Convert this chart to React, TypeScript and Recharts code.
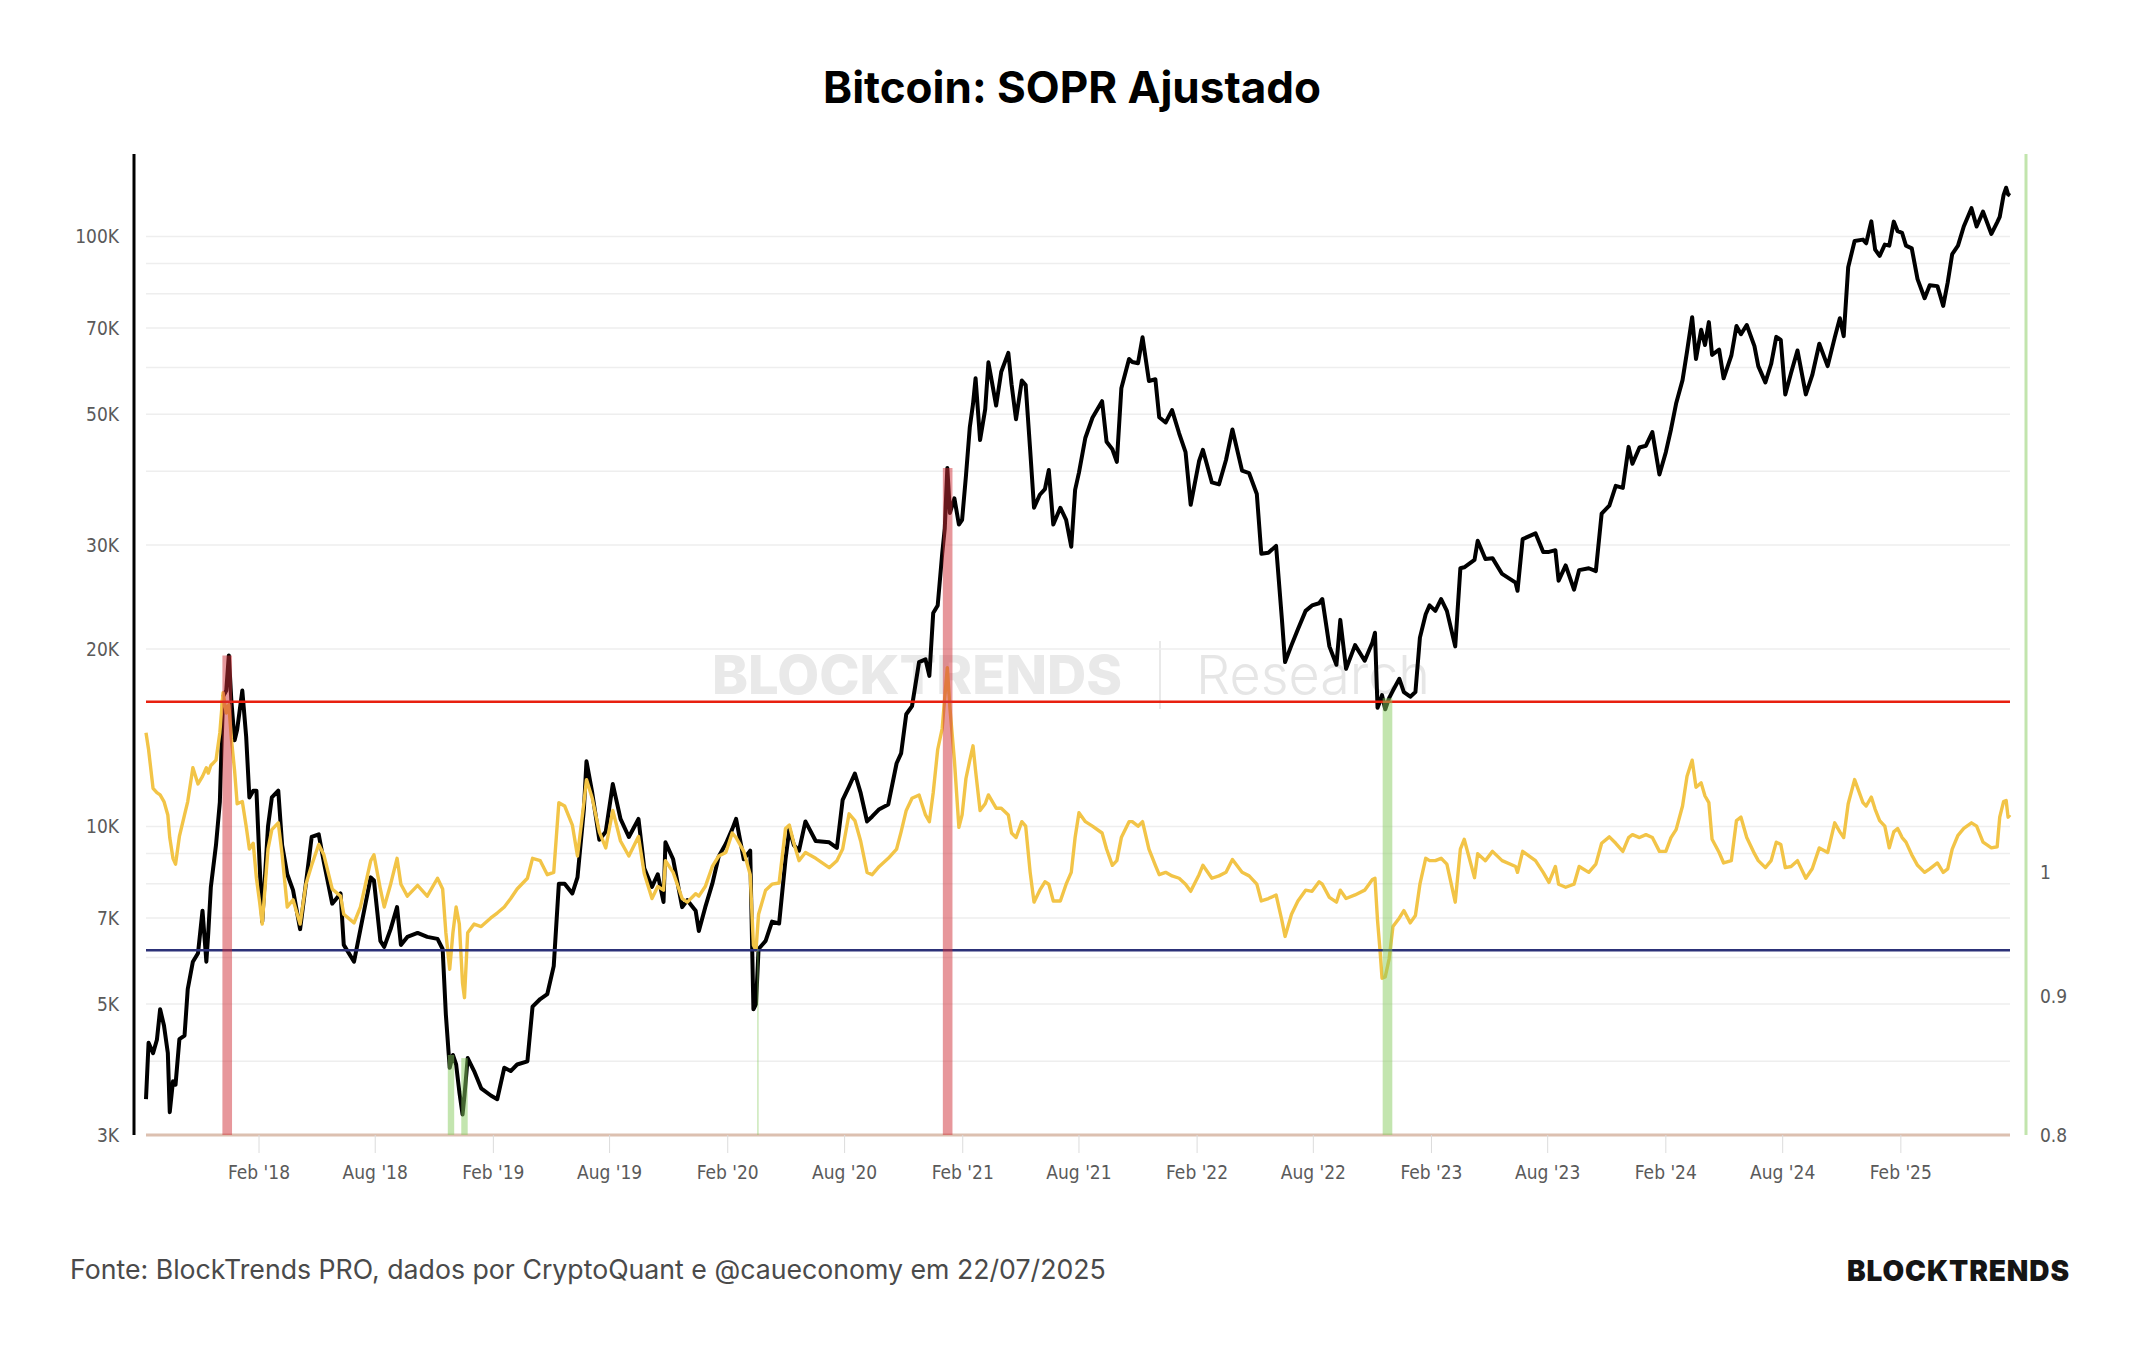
import React from 'react';
import { LineChart, Line, XAxis, YAxis, ReferenceLine, ReferenceArea } from 'recharts';

// daily samples (BTC price in USD, adjusted SOPR)
const dates = [
    '2017-08-09', '2017-08-13', '2017-08-20', '2017-08-26', '2017-08-31', '2017-09-06', '2017-09-12', '2017-09-15', '2017-09-20', '2017-09-24', '2017-09-30', '2017-10-08', '2017-10-13', '2017-10-21', '2017-10-29', '2017-11-05', '2017-11-11', '2017-11-14', '2017-11-18', '2017-11-26', '2017-12-02', '2017-12-07', '2017-12-12', '2017-12-16', '2017-12-20', '2017-12-25', '2017-12-29',
    '2018-01-06', '2018-01-12', '2018-01-17', '2018-01-23', '2018-01-28', '2018-02-02', '2018-02-06', '2018-02-15', '2018-02-21', '2018-03-03', '2018-03-09', '2018-03-17', '2018-03-26', '2018-04-06', '2018-04-15', '2018-04-24', '2018-05-05', '2018-05-13', '2018-05-26', '2018-06-08', '2018-06-13', '2018-06-29', '2018-07-09', '2018-07-25', '2018-07-30', '2018-08-09', '2018-08-15', '2018-08-25', '2018-09-04', '2018-09-10', '2018-09-20', '2018-10-06', '2018-10-21', '2018-11-06', '2018-11-14', '2018-11-19', '2018-11-25', '2018-11-30', '2018-12-05', '2018-12-10', '2018-12-15', '2018-12-18', '2018-12-23',
    '2019-01-02', '2019-01-13', '2019-01-28', '2019-02-07', '2019-02-18', '2019-02-28', '2019-03-10', '2019-03-26', '2019-04-03', '2019-04-15', '2019-04-26', '2019-05-06', '2019-05-14', '2019-05-23', '2019-06-04', '2019-06-12', '2019-06-22', '2019-06-26', '2019-07-05', '2019-07-16', '2019-07-26', '2019-08-06', '2019-08-18', '2019-08-31', '2019-09-15', '2019-09-24', '2019-10-06', '2019-10-15', '2019-10-24', '2019-10-27', '2019-11-08', '2019-11-22', '2019-11-30', '2019-12-13', '2019-12-18', '2019-12-28',
    '2020-01-08', '2020-01-18', '2020-01-29', '2020-02-08', '2020-02-14', '2020-02-26', '2020-03-07', '2020-03-12', '2020-03-16', '2020-03-20', '2020-03-31', '2020-04-10', '2020-04-21', '2020-05-01', '2020-05-07', '2020-05-14', '2020-05-22', '2020-06-01', '2020-06-17', '2020-07-08', '2020-07-20', '2020-07-29', '2020-08-08', '2020-08-17', '2020-08-26', '2020-09-05', '2020-09-13', '2020-09-24', '2020-10-08', '2020-10-21', '2020-10-28', '2020-11-05', '2020-11-14', '2020-11-25', '2020-12-05', '2020-12-11', '2020-12-17', '2020-12-24', '2020-12-31',
    '2021-01-04', '2021-01-08', '2021-01-12', '2021-01-19', '2021-01-26', '2021-01-31', '2021-02-06', '2021-02-12', '2021-02-17', '2021-02-21', '2021-02-28', '2021-03-08', '2021-03-13', '2021-03-25', '2021-04-02', '2021-04-13', '2021-04-18', '2021-04-25', '2021-05-04', '2021-05-10', '2021-05-17', '2021-05-23', '2021-06-01', '2021-06-09', '2021-06-15', '2021-06-22', '2021-07-03', '2021-07-12', '2021-07-20', '2021-07-26', '2021-08-01', '2021-08-11', '2021-08-22', '2021-09-06', '2021-09-13', '2021-09-22', '2021-09-29', '2021-10-06', '2021-10-18', '2021-10-23', '2021-11-01', '2021-11-08', '2021-11-18', '2021-11-28', '2021-12-04', '2021-12-14', '2021-12-24',
    '2022-01-04', '2022-01-14', '2022-01-22', '2022-02-04', '2022-02-10', '2022-02-24', '2022-03-07', '2022-03-18', '2022-03-28', '2022-04-12', '2022-04-23', '2022-05-05', '2022-05-12', '2022-05-23', '2022-06-04', '2022-06-13', '2022-06-18', '2022-06-28', '2022-07-08', '2022-07-20', '2022-07-30', '2022-08-10', '2022-08-15', '2022-08-26', '2022-09-06', '2022-09-12', '2022-09-21', '2022-10-05', '2022-10-20', '2022-11-01', '2022-11-05', '2022-11-09', '2022-11-13', '2022-11-16', '2022-11-21', '2022-11-27', '2022-12-03', '2022-12-13', '2022-12-20', '2022-12-30',
    '2023-01-07', '2023-01-14', '2023-01-23', '2023-01-29', '2023-02-07', '2023-02-16', '2023-02-25', '2023-03-10', '2023-03-18', '2023-03-24', '2023-04-09', '2023-04-14', '2023-04-26', '2023-05-07', '2023-05-22', '2023-06-12', '2023-06-15', '2023-06-23', '2023-07-13', '2023-07-25', '2023-08-03', '2023-08-13', '2023-08-18', '2023-08-29', '2023-09-11', '2023-09-19', '2023-10-04', '2023-10-15', '2023-10-24', '2023-11-05', '2023-11-15', '2023-11-26', '2023-12-05', '2023-12-11', '2023-12-22',
    '2024-01-01', '2024-01-11', '2024-01-22', '2024-02-01', '2024-02-09', '2024-02-17', '2024-02-27', '2024-03-05', '2024-03-13', '2024-03-19', '2024-03-27', '2024-04-02', '2024-04-08', '2024-04-13', '2024-04-24', '2024-05-01', '2024-05-13', '2024-05-21', '2024-05-28', '2024-06-06', '2024-06-18', '2024-06-24', '2024-07-05', '2024-07-14', '2024-07-22', '2024-07-29', '2024-08-05', '2024-08-14', '2024-08-24', '2024-09-06', '2024-09-16', '2024-09-27', '2024-10-10', '2024-10-21', '2024-10-29', '2024-11-04', '2024-11-11', '2024-11-21', '2024-12-04', '2024-12-09', '2024-12-17', '2024-12-23', '2024-12-30',
    '2025-01-07', '2025-01-14', '2025-01-21', '2025-01-27', '2025-02-03', '2025-02-09', '2025-02-18', '2025-02-27', '2025-03-10', '2025-03-18', '2025-03-30', '2025-04-08', '2025-04-15', '2025-04-22', '2025-05-01', '2025-05-10', '2025-05-22', '2025-05-30', '2025-06-09', '2025-06-22', '2025-07-01', '2025-07-05', '2025-07-11', '2025-07-15', '2025-07-18', '2025-07-21',
];

const btcPrice = [
    3450, 4300, 4130, 4350, 4900, 4600, 4130, 3280, 3700, 3650, 4360, 4420, 5300, 5900, 6100, 7200, 5900, 6600, 7900, 9300, 11000, 16600, 17000, 19500, 16300, 14000, 14600,
    17000, 14200, 11200, 11500, 11500, 8600, 6900, 10000, 11200, 11500, 9300, 8300, 7800, 6700, 8000, 9600, 9700, 8700, 7400, 7700, 6300, 5900, 6700, 8200, 8100, 6400, 6250, 6700, 7300, 6300, 6500, 6600, 6500, 6450, 6200, 4800, 3900, 4100, 3950, 3550, 3250, 3500, 4050,
    3850, 3600, 3500, 3450, 3900, 3850, 3950, 4000, 4950, 5100, 5200, 5800, 8000, 8000, 7700, 8200, 10700, 12900, 11400, 9500, 9800, 11800, 10300, 9600, 10300, 8500, 7900, 8300, 7450, 9400, 8800, 7300, 7500, 7200, 6650, 7300,
    8000, 8900, 9350, 9900, 10300, 8800, 9100, 4900, 5000, 6200, 6400, 6900, 6850, 8800, 9900, 9300, 9100, 10200, 9450, 9400, 9200, 11100, 11700, 12300, 11400, 10200, 10400, 10700, 10900, 12800, 13300, 15500, 16000, 19000, 19200, 18000, 23000, 23700, 29000,
    32000, 40500, 34000, 36000, 32500, 33100, 39300, 47500, 52000, 57500, 45200, 51000, 61200, 51700, 59000, 63500, 56200, 49000, 57000, 56000, 43500, 34700, 36500, 37300, 40200, 32500, 34700, 33100, 29800, 37200, 39800, 45600, 49300, 52600, 44900, 43600, 41500, 55300, 62000, 61300, 61000, 67500, 56900, 57300, 49400, 48400, 50800,
    46400, 43100, 35100, 41600, 43500, 38300, 38000, 41800, 47100, 40100, 39700, 36600, 29000, 29100, 29900, 22500, 19000, 20300, 21600, 23200, 23700, 23900, 24300, 20200, 18800, 22400, 18500, 20300, 19100, 20500, 21300, 15900, 16300, 16700, 15800, 16500, 17000, 17800, 16900, 16600,
    16900, 20900, 22900, 23700, 23200, 24300, 23200, 20200, 27400, 27500, 28300, 30500, 28400, 28500, 26800, 25900, 25100, 30700, 31400, 29200, 29200, 29400, 26100, 27700, 25200, 27200, 27400, 27100, 33900, 35000, 37800, 37500, 44000, 41200, 43900,
    44200, 46600, 39500, 43100, 47100, 52100, 57100, 63800, 73000, 62000, 69500, 65500, 71600, 63000, 64300, 57500, 62800, 70500, 68300, 70800, 65200, 60300, 56600, 60800, 67600, 66800, 54000, 58700, 64100, 54000, 58200, 65800, 60300, 67400, 72700, 67800, 88700, 98300, 98800, 97400, 106100, 95000, 92700,
    96900, 96500, 106000, 102100, 101400, 96500, 95500, 84700, 78600, 82700, 82400, 76300, 83600, 93400, 96500, 104000, 111700, 104000, 110200, 101000, 105700, 108000, 117500, 121000, 117900, 117300,
];

const soprAdjusted = [
    1.126, 1.11, 1.074, 1.07, 1.068, 1.062, 1.05, 1.03, 1.012, 1.007, 1.031, 1.05, 1.062, 1.093, 1.078, 1.085, 1.093, 1.088, 1.095, 1.1, 1.126, 1.165, 1.145, 1.153, 1.12, 1.09, 1.06,
    1.062, 1.04, 1.02, 1.025, 0.995, 0.975, 0.957, 1.02, 1.037, 1.043, 1.015, 0.971, 0.977, 0.957, 0.99, 1.006, 1.024, 1.015, 0.986, 0.98, 0.965, 0.958, 0.971, 1.01, 1.015, 0.986, 0.971, 0.99, 1.012, 0.99, 0.98, 0.989, 0.98, 0.995, 0.986, 0.95, 0.921, 0.95, 0.971, 0.957, 0.91, 0.899, 0.95,
    0.957, 0.955, 0.962, 0.966, 0.971, 0.978, 0.986, 0.995, 1.012, 1.01, 0.998, 1.0, 1.061, 1.058, 1.041, 1.014, 1.061, 1.082, 1.065, 1.035, 1.021, 1.054, 1.027, 1.014, 1.031, 0.999, 0.978, 0.988, 0.985, 1.01, 1.0, 0.978, 0.975, 0.982, 0.98, 0.988,
    1.005, 1.014, 1.017, 1.034, 1.03, 1.018, 0.998, 0.94, 0.936, 0.965, 0.985, 0.99, 0.991, 1.038, 1.041, 1.025, 1.01, 1.017, 1.012, 1.004, 1.01, 1.02, 1.051, 1.045, 1.027, 1.0, 0.998, 1.005, 1.012, 1.02, 1.035, 1.054, 1.065, 1.068, 1.05, 1.044, 1.07, 1.11, 1.13,
    1.16, 1.19, 1.15, 1.1, 1.039, 1.05, 1.083, 1.1, 1.1135, 1.09, 1.054, 1.06, 1.068, 1.056, 1.056, 1.05, 1.034, 1.03, 1.044, 1.04, 1.0, 0.975, 0.985, 0.992, 0.99, 0.976, 0.976, 0.99, 1.0, 1.03, 1.052, 1.044, 1.04, 1.034, 1.02, 1.006, 1.01, 1.03, 1.044, 1.044, 1.04, 1.044, 1.02, 1.006, 0.998, 1.0, 0.997,
    0.995, 0.99, 0.984, 0.998, 1.006, 0.995, 0.997, 1.0, 1.011, 1.0, 0.997, 0.99, 0.976, 0.978, 0.981, 0.96, 0.947, 0.965, 0.976, 0.985, 0.984, 0.992, 0.99, 0.979, 0.975, 0.985, 0.978, 0.981, 0.985, 0.994, 0.995, 0.96, 0.935, 0.914, 0.915, 0.929, 0.955, 0.962, 0.968, 0.958,
    0.964, 0.99, 1.012, 1.01, 1.01, 1.012, 1.007, 0.975, 1.02, 1.0285, 0.9955, 1.016, 1.01, 1.018, 1.01, 1.005, 1.0, 1.018, 1.01, 1.0, 0.9915, 1.005, 0.99, 0.9874, 0.99, 1.005, 1.0, 1.007, 1.025, 1.0306, 1.025, 1.018, 1.03, 1.0326, 1.03,
    1.0326, 1.03, 1.018, 1.018, 1.03, 1.037, 1.058, 1.085, 1.1, 1.075, 1.079, 1.067, 1.061, 1.0285, 1.017, 1.008, 1.01, 1.045, 1.048, 1.03, 1.016, 1.01, 1.004, 1.01, 1.026, 1.024, 1.004, 1.005, 1.01, 0.995, 1.003, 1.021, 1.017, 1.043, 1.035, 1.03, 1.06, 1.082, 1.061, 1.058, 1.066, 1.055, 1.045,
    1.04, 1.021, 1.035, 1.038, 1.03, 1.026, 1.015, 1.006, 1.0, 1.003, 1.008, 1.0, 1.003, 1.02, 1.032, 1.038, 1.043, 1.04, 1.026, 1.021, 1.022, 1.048, 1.062, 1.063, 1.048, 1.05,
];

// signal windows (SOPR above the top band / below the bottom band)
const redBands = [['2017-12-06', '2017-12-21'], ['2021-01-01', '2021-01-16']];
const greenBands = [['2018-11-22', '2018-12-02'], ['2018-12-13', '2018-12-23'], ['2020-03-18', '2020-03-20'], ['2022-11-17', '2022-12-02']];

const topLevel = 1.156;
const bottomLevel = 0.936;

const priceTicks = [3000, 4000, 5000, 6000, 7000, 8000, 9000, 10000, 20000, 30000, 40000, 50000, 60000, 70000, 80000, 90000, 100000];
const priceLabels = [3000, 5000, 7000, 10000, 20000, 30000, 50000, 70000, 100000];
const soprTicks = [0.8, 0.9, 1];
const monthTicks = ['2018-02-01', '2018-08-01', '2019-02-01', '2019-08-01', '2020-02-01', '2020-08-01', '2021-02-01', '2021-08-01', '2022-02-01', '2022-08-01', '2023-02-01', '2023-08-01', '2024-02-01', '2024-08-01', '2025-02-01'];

const ts = (d: string) => Date.parse(d + 'T00:00:00Z');
const tStart = ts(dates[0]);
const tEnd = ts(dates[dates.length - 1]);

const data = dates.map((d, i) => ({ t: ts(d), price: btcPrice[i], sopr: soprAdjusted[i] }));

const bandTop = (from: string, to: string) =>
    Math.max(...data.filter(r => r.t >= ts(from) && r.t <= ts(to)).map(r => r.price));

const fmtMonth = (t: number) => {
    const d = new Date(t);
    return `${d.getUTCMonth() === 1 ? 'Feb' : 'Aug'} '${String(d.getUTCFullYear()).slice(2)}`;
};

const tickFont = "'DejaVu Sans Condensed', 'Liberation Sans Narrow', sans-serif";
const tickStyle = { fill: '#5a5a5a', fontSize: 19, fontFamily: tickFont };

export default function App() {
    return (
        <div style={{ position: 'absolute', left: 0, top: 0, width: 2144, height: 1350, background: '#fff' }}>
            <svg width={2144} height={1350} style={{ position: 'absolute', left: 0, top: 0 }}>
                <text x={1072} y={103} textAnchor="middle" fontFamily="Inter, Roboto, sans-serif" fontWeight={700} fontSize={44} fill="#000">
                    Bitcoin: SOPR Ajustado
                </text>
                {/* watermark */}
                <text x={712} y={694} fontFamily="Inter, sans-serif" fontWeight={800} fontSize={54} fill="#e9e9e9" textLength={410} lengthAdjust="spacingAndGlyphs">
                    BLOCKTRENDS
                </text>
                <line x1={1160} x2={1160} y1={641} y2={709} stroke="#e9e9e9" strokeWidth={2} />
                <text x={1196} y={694} fontFamily="Inter, sans-serif" fontWeight={300} fontSize={54} fill="#e6e6e6" textLength={234} lengthAdjust="spacingAndGlyphs">
                    Research
                </text>
                <text x={70} y={1279} fontFamily="Inter, Roboto, sans-serif" fontSize={26.7} fill="#4a4a4a">
                    Fonte: BlockTrends PRO, dados por CryptoQuant e @caueconomy em 22/07/2025
                </text>
                <text x={2070} y={1281} textAnchor="end" fontFamily="Inter, sans-serif" fontWeight={900} fontSize={28} letterSpacing={0.9} fill="#151515">
                    BLOCKTRENDS
                </text>
            </svg>
            <div style={{ position: 'absolute', left: 0, top: 0 }}>
                <LineChart width={2144} height={1350} data={data} margin={{ top: 154, right: 38, bottom: 155, left: 34 }}>
                    <XAxis
                        dataKey="t"
                        type="number"
                        domain={[tStart, tEnd]}
                        ticks={monthTicks.map(ts)}
                        interval={0}
                        tickFormatter={fmtMonth}
                        padding={{ left: 12, right: 16 }}
                        axisLine={false}
                        tickLine={{ stroke: '#dcdcdc' }}
                        tickSize={18}
                        tickMargin={13}
                        tick={tickStyle}
                        height={60}
                    />
                    <YAxis
                        yAxisId="price"
                        scale="log"
                        domain={[3000, 138000]}
                        allowDataOverflow
                        ticks={priceTicks}
                        interval={0}
                        tickFormatter={(v: number) => (priceLabels.includes(v) ? `${v / 1000}K` : '')}
                        axisLine={{ stroke: '#000', strokeWidth: 3 }}
                        tickLine={false}
                        tickSize={6}
                        tickMargin={9}
                        tick={tickStyle}
                        width={100}
                    />
                    <YAxis
                        yAxisId="sopr"
                        orientation="right"
                        scale="log"
                        domain={[0.8, 1.841]}
                        allowDataOverflow
                        ticks={soprTicks}
                        interval={0}
                        tickFormatter={(v: number) => String(v)}
                        axisLine={{ stroke: '#c2e5ad', strokeWidth: 3 }}
                        tickLine={false}
                        tickSize={6}
                        tickMargin={8}
                        tick={tickStyle}
                        width={80}
                    />

                    {/* horizontal grid, only over the data span */}
                    {priceTicks.map(v => (
                        <ReferenceLine
                            key={v}
                            yAxisId="price"
                            segment={[{ x: tStart, y: v }, { x: tEnd, y: v }]}
                            stroke="#eeeeee"
                            strokeWidth={1.5}
                            zIndex={-10}
                        />
                    ))}
                    <ReferenceLine
                        yAxisId="price"
                        segment={[{ x: tStart, y: 3000 }, { x: tEnd, y: 3000 }]}
                        stroke="#dcc0b0"
                        strokeWidth={3}
                    />

                    <Line yAxisId="price" dataKey="price" stroke="#000" strokeWidth={4} strokeLinejoin="round" dot={false} isAnimationActive={false} />
                    <Line yAxisId="sopr" dataKey="sopr" stroke="#f2c447" strokeWidth={3.4} strokeLinejoin="round" dot={false} isAnimationActive={false} />

                    <ReferenceLine yAxisId="sopr" segment={[{ x: tStart, y: topLevel }, { x: tEnd, y: topLevel }]} stroke="#e8200f" strokeWidth={2.5} />
                    <ReferenceLine yAxisId="sopr" segment={[{ x: tStart, y: bottomLevel }, { x: tEnd, y: bottomLevel }]} stroke="#2c3178" strokeWidth={2.5} />

                    {redBands.map(([a, b]) => (
                        <ReferenceArea key={a} yAxisId="price" x1={ts(a)} x2={ts(b)} y1={3000} y2={bandTop(a, b)} fill="#cf3038" fillOpacity={0.5} stroke="none" zIndex={900} />
                    ))}
                    {greenBands.map(([a, b]) => (
                        <ReferenceArea key={a} yAxisId="price" x1={ts(a)} x2={ts(b)} y1={3000} y2={bandTop(a, b)} fill="#88cc60" fillOpacity={0.5} stroke="none" zIndex={900} />
                    ))}
                </LineChart>
            </div>
        </div>
    );
}
